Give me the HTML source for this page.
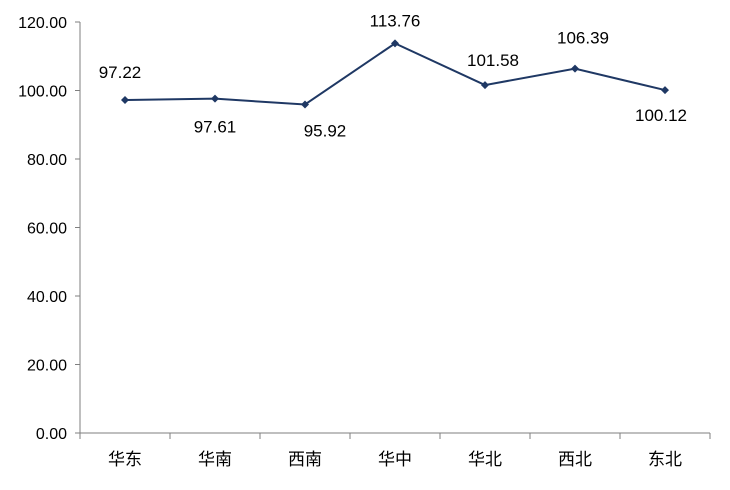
<!DOCTYPE html>
<html><head><meta charset="utf-8"><style>
body{margin:0;background:#fff}
svg text{font-family:"Liberation Sans","Noto Sans CJK SC",sans-serif;fill:#000}
</style></head><body>
<svg id="chart" width="730" height="485" xmlns="http://www.w3.org/2000/svg"></svg>
<script>
const categories=["华东","华南","西南","华中","华北","西北","东北"];
const values=[97.22,97.61,95.92,113.76,101.58,106.39,100.12];
const labelAbove=[true,false,false,true,true,true,false];
const svg=document.getElementById('chart');
const NS="http://www.w3.org/2000/svg";
const yTicks=[0,20,40,60,80,100,120];
const labelDx=[-5,0,20,0,8,8,-4];
const labelDy=[-22,34,32,-17,-19,-25,31];
const x0=80,x1=710,yB=433,yT=22,yMax=120;
const band=(x1-x0)/categories.length;
const xs=i=>x0+band*(i+0.5);
const ys=v=>yB-(v/yMax)*(yB-yT);
function mk(t,a){const e=document.createElementNS(NS,t);for(const k in a)e.setAttribute(k,a[k]);svg.appendChild(e);return e;}
let e=mk('line',{x1:x0,y1:yT,x2:x0,y2:yB,stroke:'#7f7f7f','stroke-width':1});


e=mk('line',{x1:x0,y1:yB,x2:x1,y2:yB,stroke:'#7f7f7f','stroke-width':1});


yTicks.forEach(v=>{
 const y=ys(v);
 let t=mk('line',{x1:x0-5,y1:y,x2:x0,y2:y,stroke:'#7f7f7f'});
 
 
 let l=mk('text',{x:67,y:y+6,'text-anchor':'end','font-size':16});
 l.textContent=v.toFixed(2);
 
 
});
for(let i=0;i<=categories.length;i++){
 const x=x0+band*i;
 let t=mk('line',{x1:x,y1:yB,x2:x,y2:yB+6,stroke:'#7f7f7f'});
 
 
}
categories.forEach((c,i)=>{
 let l=mk('text',{x:xs(i),y:465,'text-anchor':'middle','font-size':17});
 l.textContent=c;
 
 
});
const pts=values.map((v,i)=>xs(i)+','+ys(v)).join(' ');
let pl=mk('polyline',{points:pts,fill:'none',stroke:'#1f3864','stroke-width':2});


values.forEach((v,i)=>{
 const x=xs(i),y=ys(v);
 let m=mk('polygon',{points:`${x},${y-4} ${x+4},${y} ${x},${y+4} ${x-4},${y}`,fill:'#1f3864'});
 
 
 let l=mk('text',{x:x+labelDx[i],y:y+labelDy[i],'text-anchor':'middle','font-size':17});
 l.textContent=v.toFixed(2);
 
 
});
</script>
</body></html>
